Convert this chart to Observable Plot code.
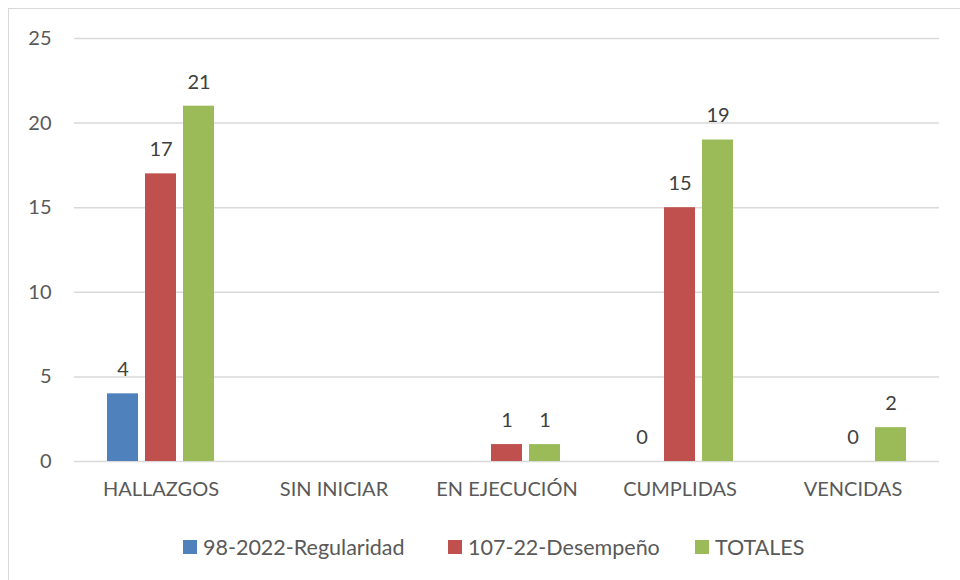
<!DOCTYPE html>
<html>
<head>
<meta charset="utf-8">
<script src="https://cdn.jsdelivr.net/npm/d3@7"></script>
<script src="https://cdn.jsdelivr.net/npm/@observablehq/plot@0.6"></script>
<style>
  html, body { margin: 0; padding: 0; background: #fff; }
  body { width: 960px; height: 580px; overflow: hidden; position: relative; font-family: Lato, "Open Sans", sans-serif; }
  #frame { position: absolute; left: 8px; top: 8px; width: 1000px; height: 700px; border: 1.5px solid #d9d9d9; box-sizing: border-box; }
  #chart { position: absolute; left: 0; top: 0; }
  #legend { position: absolute; top: 534px; left: 0; width: 960px; height: 24px; }
  .item { position: absolute; top: 0; display: flex; align-items: center; font-size: 21.5px; color: #595959; white-space: nowrap; }
  .sw { width: 14px; height: 14px; margin-right: 6px; }
</style>
</head>
<body>
<div id="frame"></div>
<div id="chart"></div>
<div id="legend"></div>
<script>
const categories = ["HALLAZGOS", "SIN INICIAR", "EN EJECUCIÓN", "CUMPLIDAS", "VENCIDAS"];
const series = ["98-2022-Regularidad", "107-22-Desempeño", "TOTALES"];
const regularidad = [4, null, null, 0, null];
const desempeno = [17, null, 1, 15, 0];
const totales = [21, null, 1, 19, 2];
const colors = ["#4F81BD", "#C0504D", "#9BBB59"];
const yTicks = [0, 5, 10, 15, 20, 25];

const valuesBySeries = [regularidad, desempeno, totales];
const data = [];
categories.forEach((c, i) => {
  series.forEach((s, j) => {
    data.push({category: c, series: s, value: valuesBySeries[j][i]});
  });
});

const plot = Plot.plot({
  width: 960,
  height: 515,
  marginLeft: 73,
  marginRight: 20,
  marginTop: 38,
  marginBottom: 54,
  style: {fontFamily: "Lato, 'Open Sans', sans-serif", fontSize: "20px", color: "#595959", background: "transparent", overflow: "visible"},
  fx: {domain: categories, padding: 0, label: null, axis: "bottom", tickSize: 0, tickPadding: 20},
  x: {domain: series, paddingInner: 0.195, paddingOuter: 0.85, axis: null},
  y: {domain: [0, 25], ticks: yTicks, label: null, tickSize: 0, tickPadding: 23, grid: false},
  color: {domain: series, range: colors},
  marks: [
    Plot.ruleY(yTicks, {stroke: "#d9d9d9", strokeWidth: 1.5}),
    Plot.barY(data, {fx: "category", x: "series", y: d => d.value == null ? NaN : d.value, fill: "series"}),
    Plot.text(data, {fx: "category", x: "series", y: d => d.value == null ? NaN : d.value, text: d => d.value == null ? null : String(d.value), dy: -24, fill: "#404040", fontSize: 20})
  ]
});
document.getElementById("chart").appendChild(plot);

const legend = document.getElementById("legend");
const legendX = [183, 448, 695];
series.forEach((s, j) => {
  const item = document.createElement("div");
  item.className = "item";
  item.style.left = legendX[j] + "px";
  const sw = document.createElement("span");
  sw.className = "sw";
  sw.style.background = colors[j];
  const t = document.createElement("span");
  t.textContent = s;
  item.appendChild(sw);
  item.appendChild(t);
  legend.appendChild(item);
});
</script>
</body>
</html>
